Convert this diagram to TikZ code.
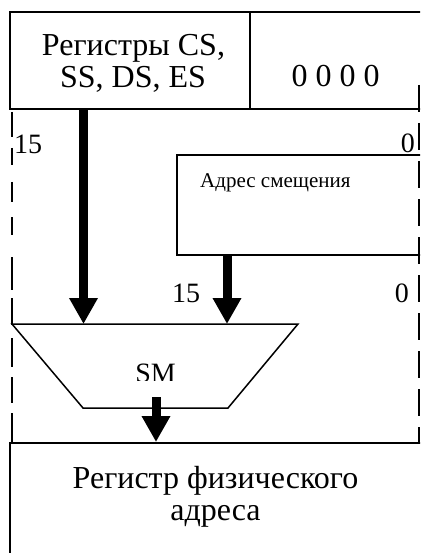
\documentclass[tikz,border=0pt]{standalone}
\usepackage{fontspec}
\setmainfont{Liberation Serif}
\usetikzlibrary{arrows.meta}
\newcommand\fsz[1]{\fontsize{#1pt}{#1pt}\selectfont}
\begin{document}
\begin{tikzpicture}[x=1pt,y=-1pt,
  box/.style={draw,line width=2pt,inner sep=0pt,rectangle},
  txt/.style={inner sep=0pt,font=\fsz{32}},
  lbl/.style={inner sep=0pt,font=\fsz{28}},
  smalltxt/.style={inner sep=0pt,font=\fsz{21}},
  bus/.style={line width=9pt,-{Triangle[width=27pt,length=26pt]}},
  dashline/.style={line width=2pt}]
\useasboundingbox (0,0) rectangle (420,553);
\clip (0,0) rectangle (420,553);
% boxes
\node[box,minimum width=240pt,minimum height=97pt] (regs) at (130,60.5) {};
\node[box,minimum width=190pt,minimum height=97pt] (zbox) at (345,60.5) {};
\node[box,line width=2.5pt,minimum width=263pt,minimum height=100pt] (addr) at (308.5,205) {};
\node[box,minimum width=430pt,minimum height=160pt] (phys) at (225,523) {};
% texts
\node[txt,anchor=base] (r1) at (133.5,56) {Регистры CS,};
\node[txt,anchor=base] (r2) at (133,88) {SS, DS, ES};
\node[txt,anchor=base] (zeros) at (335.5,87) {0 0 0 0};
\node[smalltxt,anchor=base west] (addrtext) at (200,188) {Адрес смещения};
\node[lbl,anchor=base west] (l15a) at (14,154) {15};
\node[lbl,anchor=base east] (l0a) at (415,153) {0};
\node[lbl,anchor=base west] (l15b) at (172,302) {15};
\node[lbl,anchor=base east] (l0b) at (409,302) {0};
\node[txt,anchor=base] (p1) at (215.5,488) {Регистр физического};
\node[txt,anchor=base] (p2) at (215.5,520) {адреса};
% dashed borders
\foreach \a/\b in {112/137,148/165,182/202,217/235,257/290,298/325,338/367,377/403,413/443}
  \draw[dashline] (12,\a) -- (12,\b);
\draw[line width=2.5pt,dash pattern=on 27pt off 11pt] (418.8,85) -- (418.8,443);
% adder
\coordinate (tl) at (12,324);
\coordinate (tr) at (298,324);
\coordinate (br) at (228,408);
\coordinate (bl) at (83,408);
\draw[line width=1.5pt,line join=miter] (tl) -- (tr) -- (br) -- (bl) -- cycle;
\begin{scope}
\clip (100,340) rectangle (210,380.5);
\node[lbl,anchor=base] (sm) at (155.5,382) {SM};
\end{scope}
\coordinate (in1) at (83.5,324);
\coordinate (in2) at (227,324);
\coordinate (out) at (156,397);
% arrows
\draw[bus] (regs.south -| in1) -- (in1);
\draw[bus] (addr.south -| in2) -- (in2);
\draw[bus] (out) -- (out |- phys.north);
\end{tikzpicture}
\end{document}
